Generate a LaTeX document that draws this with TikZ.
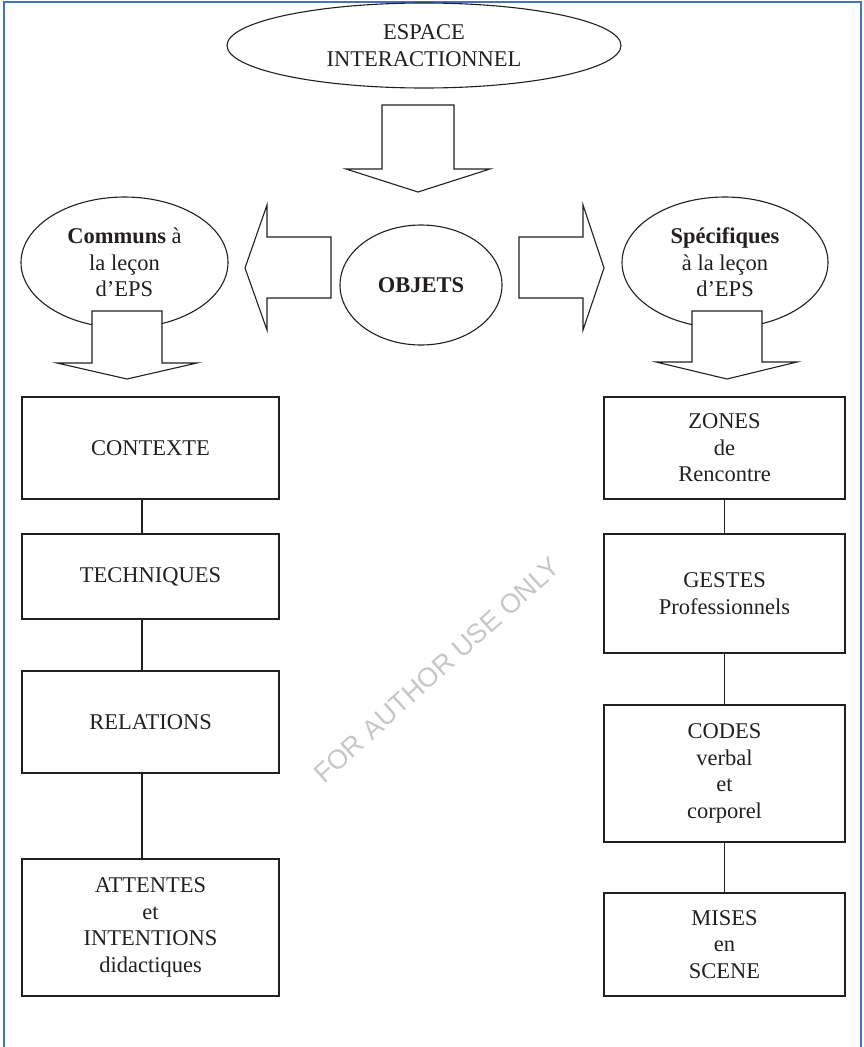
\documentclass[tikz,border=0pt]{standalone}
\usepackage{fontspec}
\setmainfont{Liberation Serif}
\newfontfamily\wmfont{Liberation Sans}
\usetikzlibrary{shapes.geometric}
\definecolor{frameblue}{RGB}{68,114,196}
\definecolor{ink}{RGB}{35,31,32}
\begin{document}
\begin{tikzpicture}[x=1pt,y=-1pt,
  every node/.style={font=\fontsize{22.5}{26.5}\selectfont, text=ink, align=center, inner sep=0pt},
  boxnode/.style={draw=ink, line width=1.2pt, rectangle, minimum width=257pt},
  rboxnode/.style={draw=ink, line width=1.2pt, rectangle, minimum width=241pt},
  ellnode/.style={draw=ink, line width=1.1pt, ellipse, fill=white},
  blockarrow/.style={draw=ink, line width=1.1pt, fill=white, line join=miter},
  link/.style={draw=ink, line width=1.2pt}]
\useasboundingbox (0,0) rectangle (863,1047);
% frame
\draw[frameblue, line width=2pt] (4,1060) -- (4,2) -- (861,2) -- (861,1060);
% watermark
\node[font=\wmfont\fontsize{27}{30}\selectfont, text=black!22, rotate=42] (wm) at (437,670) {FOR AUTHOR USE ONLY};
% ellipses
\node[ellnode, minimum width=394pt, minimum height=85pt] (esp) at (424,45.5) {ESPACE\\INTERACTIONNEL};
\node[ellnode, minimum width=162pt, minimum height=120pt] (obj) at (421,285) {\textbf{OBJETS}};
\node[ellnode, minimum width=207pt, minimum height=131pt] (com) at (124.5,262.5) {\textbf{Communs} à\\la leçon\\d’EPS};
\node[ellnode, minimum width=206pt, minimum height=131pt] (spe) at (725,262.5) {\textbf{Spécifiques}\\à la leçon\\d’EPS};
% block arrows
\draw[blockarrow] (382,105) -- (454,105) -- (454,169) -- (490,169) -- (418,192) -- (346,169) -- (382,169) -- cycle;
\draw[blockarrow] (245,268) -- (267,205) -- (267,237) -- (331,237) -- (331,298) -- (267,298) -- (267,330) -- cycle;
\draw[blockarrow] (519,237) -- (583,237) -- (583,205) -- (604,268) -- (583,330) -- (583,298) -- (519,298) -- cycle;
\draw[blockarrow] (92,311) -- (162,311) -- (162,363) -- (197,363) -- (127,379) -- (57,363) -- (92,363) -- cycle;
\draw[blockarrow] (692,311) -- (762,311) -- (762,362) -- (797,362) -- (727,379) -- (656,362) -- (692,362) -- cycle;
% left column
\node[boxnode, minimum height=102pt] (ctx) at (150.5,448) {CONTEXTE};
\node[boxnode, minimum height=85pt] (tech) at (150.5,576.5) {TECHNIQUES};
\node[boxnode, minimum height=102pt] (rel) at (150.5,722) {RELATIONS};
\node[boxnode, minimum height=137pt] (att) at (150.5,927.5) {ATTENTES\\et\\INTENTIONS\\didactiques};
% right column
\node[rboxnode, minimum height=102pt] (zon) at (724.5,448) {ZONES\\de\\Rencontre};
\node[rboxnode, minimum height=119pt] (ges) at (724.5,593.5) {GESTES\\Professionnels};
\node[rboxnode, minimum height=137pt] (cod) at (724.5,773.5) {CODES\\verbal\\et\\corporel};
\node[rboxnode, minimum height=103pt] (mis) at (724.5,944.5) {MISES\\en\\SCENE};
% connectors
\coordinate (lx) at (142,0);
\draw[link] (lx |- ctx.south) -- (lx |- tech.north);
\draw[link] (lx |- tech.south) -- (lx |- rel.north);
\draw[link] (lx |- rel.south) -- (lx |- att.north);
\draw[link] (zon.south) -- (ges.north);
\draw[link] (ges.south) -- (cod.north);
\draw[link] (cod.south) -- (mis.north);
\end{tikzpicture}
\end{document}
